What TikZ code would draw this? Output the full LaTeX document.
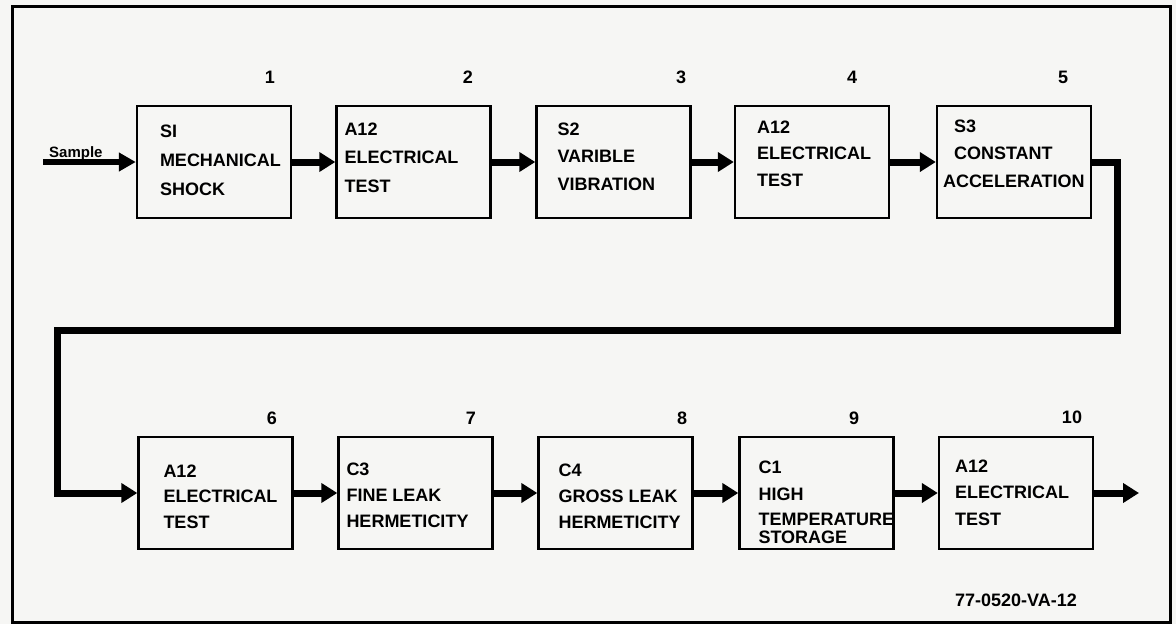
\documentclass[tikz,border=0pt]{standalone}
\usepackage{fontspec}
\setmainfont{Liberation Sans}
\usetikzlibrary{arrows.meta,calc}
\definecolor{paper}{RGB}{246,246,244}
\begin{document}
\begin{tikzpicture}[x=1pt,y=-1pt,
  box/.style={draw,line width=2.4pt,minimum width=154pt,minimum height=112pt,inner sep=0pt},
  conn/.style={line width=7pt,line join=miter,-{Triangle[length=16pt,width=19pt]}},
  txt/.style={anchor=north west,inner sep=0pt,align=left,font=\fontsize{18pt}{#1}\selectfont\bfseries},
  num/.style={inner sep=0pt,font=\fontsize{18pt}{20pt}\selectfont\bfseries}]
\fill[paper] (0,0) rectangle (1176,624);
\useasboundingbox (0,0) rectangle (1176,624);
\draw[line width=3pt] (12.5,6.5) rectangle (1170.5,622);

% boxes
\node[box] (b1) at (214,162) {};
\node[box] (b2) at (413.5,162) {};
\node[box] (b3) at (613.5,162) {};
\node[box] (b4) at (812,162) {};
\node[box] (b5) at (1014,162) {};
\node[box] (b6) at (215.5,493) {};
\node[box] (b7) at (415.5,493) {};
\node[box] (b8) at (615.5,493) {};
\node[box] (b9) at (816.5,493) {};
\node[box] (b10) at (1016,493) {};

% box texts
\node[txt=29pt] (t1) at ($(b1.north west)+(24,19.5)$) {SI\\MECHANICAL\\SHOCK};
\node[txt=28.5pt] (t2) at ($(b2.north west)+(9,17.5)$) {A12\\ELECTRICAL\\TEST};
\node[txt=27.5pt] (t3) at ($(b3.north west)+(22,17.5)$) {S2\\VARIBLE\\VIBRATION};
\node[txt=26.5pt] (t4) at ($(b4.north west)+(23,15.5)$) {A12\\ELECTRICAL\\TEST};
\node[txt=27.5pt] (t5) at ($(b5.north west)+(7,14.5)$) {\hspace*{11pt}S3\\\hspace*{11pt}CONSTANT\\ACCELERATION};
\node[txt=25.5pt] (t6) at ($(b6.north west)+(26,28.5)$) {A12\\ELECTRICAL\\TEST};
\node[txt=26pt] (t7) at ($(b7.north west)+(9,26.5)$) {C3\\FINE LEAK\\HERMETICITY};
\node[txt=26pt] (t8) at ($(b8.north west)+(21,27.5)$) {C4\\GROSS LEAK\\HERMETICITY};
\node[txt=27pt] (t9) at ($(b9.north west)+(20,24.5)$) {C1\\HIGH\\[-2pt]TEMPERATURE\\[-9pt]STORAGE};
\node[txt=26.5pt] (t10) at ($(b10.north west)+(17,23.5)$) {A12\\ELECTRICAL\\TEST};

% step numbers
\node[num] (n1) at (270,77) {1};
\node[num] (n2) at (468,77) {2};
\node[num] (n3) at (681,77) {3};
\node[num] (n4) at (852,77) {4};
\node[num] (n5) at (1063,77) {5};
\node[num] (n6) at (272,418) {6};
\node[num] (n7) at (471,418) {7};
\node[num] (n8) at (682,418) {8};
\node[num] (n9) at (854,418) {9};
\node[num] (n10) at (1072,417) {10};

% connectors
\coordinate (s0) at (43,162);
\draw[line width=6pt,-{Triangle[length=17pt,width=18pt]}] (s0) -- (b1.west);
\node[anchor=base west,inner sep=0pt,font=\fontsize{15pt}{17pt}\selectfont\bfseries] (smp) at (49,157) {Sample};
\draw[conn] (b1.east) -- (b2.west);
\draw[conn] (b2.east) -- (b3.west);
\draw[conn] (b3.east) -- (b4.west);
\draw[conn] (b4.east) -- (b5.west);
\coordinate (r1) at (1117,330);
\coordinate (r2) at (57,330);
\draw[conn] (b5.east) -- (b5.east -| r1) -- (r1) -- (r2) -- (r2 |- b6.west) -- (b6.west);
\draw[conn] (b6.east) -- (b7.west);
\draw[conn] (b7.east) -- (b8.west);
\draw[conn] (b8.east) -- (b9.west);
\draw[conn] (b9.east) -- (b10.west);
\coordinate (out) at (1139,493);
\draw[conn] (b10.east) -- (out);

\node[inner sep=0pt,font=\fontsize{18pt}{20pt}\selectfont\bfseries] (ref) at (1016,600) {77-0520-VA-12};
\end{tikzpicture}
\end{document}
